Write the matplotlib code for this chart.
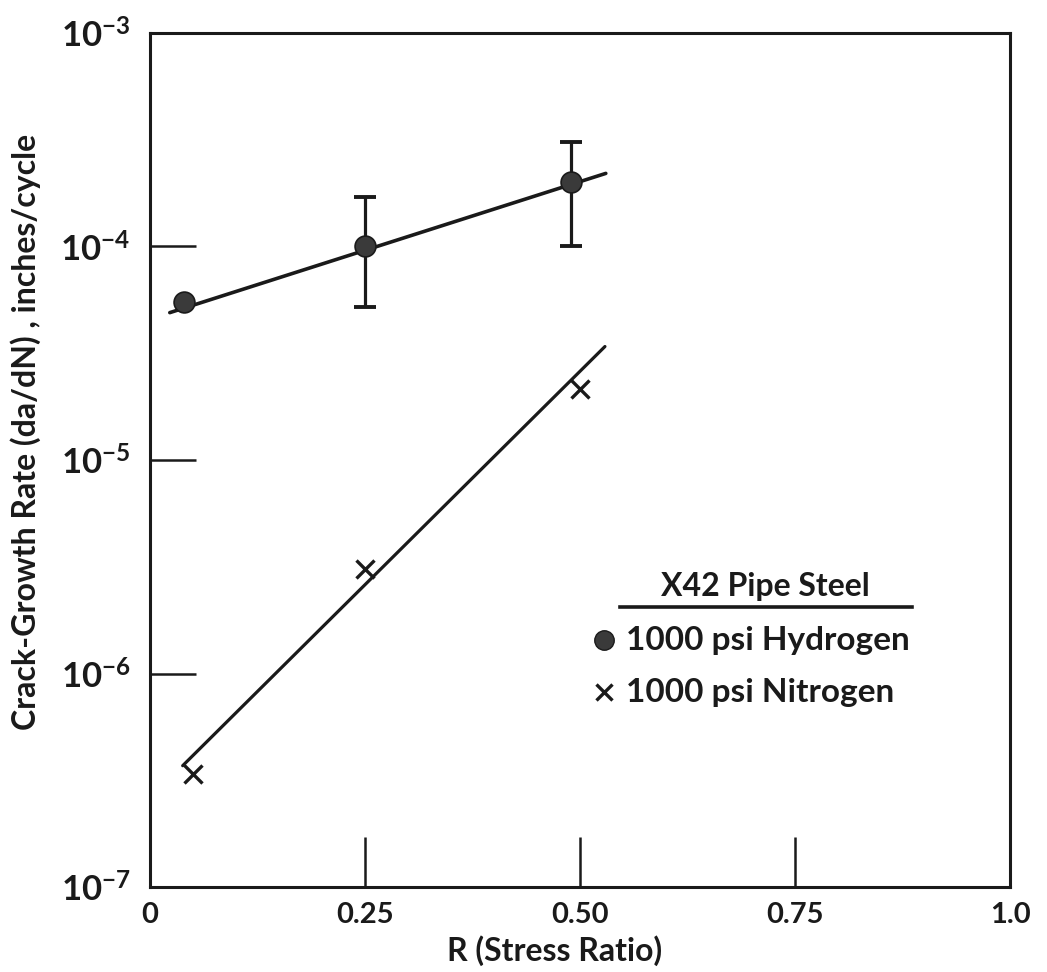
import matplotlib
matplotlib.use("Agg")
import matplotlib.pyplot as plt
from matplotlib.lines import Line2D

# ---- data ----
h2_r = [0.04, 0.25, 0.49]
h2_rate = [5.5e-5, 1.0e-4, 2.0e-4]
h2_err_lo = [5.5e-5, 5.2e-5, 1.0e-4]
h2_err_hi = [5.5e-5, 1.7e-4, 3.1e-4]
h2_has_err = [False, True, True]

n2_r = [0.05, 0.25, 0.50]
n2_rate = [3.4e-7, 3.1e-6, 2.15e-5]

h2_fit_r = [0.023, 0.53]
h2_fit_rate = [4.9e-5, 2.2e-4]
n2_fit_r = [0.038, 0.529]
n2_fit_rate = [3.7e-7, 3.4e-5]

x_ticks = [0, 0.25, 0.50, 0.75, 1.0]
x_tick_labels = ["0", "0.25", "0.50", "0.75", "1.0"]
y_ticks = [1e-7, 1e-6, 1e-5, 1e-4, 1e-3]
y_tick_labels = [r"$\mathregular{10^{-7}}$", r"$\mathregular{10^{-6}}$",
                 r"$\mathregular{10^{-5}}$", r"$\mathregular{10^{-4}}$",
                 r"$\mathregular{10^{-3}}$"]

legend_title = "X42 Pipe Steel"
legend_labels = ["1000 psi Hydrogen", "1000 psi Nitrogen"]
x_label = "R (Stress Ratio)"
y_label = "Crack-Growth Rate (da/dN) , inches/cycle"

# ---- style ----
plt.rcParams['font.family'] = ['Lato', 'DejaVu Sans']
plt.rcParams['font.weight'] = 'bold'
plt.rcParams['axes.labelweight'] = 'bold'
plt.rcParams['mathtext.fontset'] = 'custom'
plt.rcParams['mathtext.rm'] = 'Lato:bold'
plt.rcParams['mathtext.bf'] = 'Lato:bold'
plt.rcParams['mathtext.default'] = 'bf'
ink = "#1a1a1a"
dot = "#3a3a3a"

fig = plt.figure(figsize=(10.47, 9.72), dpi=100)
W, H = 1047, 972
L, R, T, B = 150, 1010, 33, 887
ax = fig.add_axes([L / W, 1 - B / H, (R - L) / W, (B - T) / H])

ax.set_yscale("log")
ax.set_xlim(0, 1.0)
ax.set_ylim(1e-7, 1e-3)

# fit lines
ax.plot(h2_fit_r, h2_fit_rate, color=ink, lw=2.6, solid_capstyle="round", zorder=2)
ax.plot(n2_fit_r, n2_fit_rate, color=ink, lw=2.3, solid_capstyle="round", zorder=2)

# error bars
for r, v, lo, hi, has in zip(h2_r, h2_rate, h2_err_lo, h2_err_hi, h2_has_err):
    if has:
        ax.errorbar([r], [v], yerr=[[v - lo], [hi - v]], fmt="none",
                    ecolor=ink, elinewidth=2.3, capsize=8, capthick=2.8, zorder=3)

# data points
ax.plot(h2_r, h2_rate, linestyle="none", marker="o", markersize=15,
        markerfacecolor=dot, markeredgecolor=ink, markeredgewidth=1.2, zorder=4)
ax.plot(n2_r, n2_rate, linestyle="none", marker="x", markersize=13,
        markeredgewidth=2.4, color=ink, zorder=4)

# axes styling
for s in ax.spines.values():
    s.set_linewidth(2.2)
    s.set_color(ink)
ax.set_xticks(x_ticks)
ax.set_xticklabels(x_tick_labels)
ax.set_yticks(y_ticks)
ax.set_yticklabels(y_tick_labels)
ax.yaxis.set_minor_locator(matplotlib.ticker.NullLocator())
ax.tick_params(axis="x", direction="in", length=36, width=1.8, pad=11,
               labelsize=21, colors=ink)
ax.tick_params(axis="y", direction="in", length=33, width=1.8, pad=14,
               labelsize=25, colors=ink)
# hide ticks at the very ends (corners)
ax.xaxis.get_major_ticks()[0].tick1line.set_visible(False)
ax.xaxis.get_major_ticks()[-1].tick1line.set_visible(False)
ax.yaxis.get_major_ticks()[0].tick1line.set_visible(False)
ax.yaxis.get_major_ticks()[-1].tick1line.set_visible(False)

ax.set_xlabel(x_label, fontsize=23, color=ink, fontweight="bold")
ax.xaxis.set_label_coords(0.47, -0.057)
ax.set_ylabel(y_label, fontsize=23, color=ink, fontweight="bold")
ax.yaxis.set_label_coords(-0.127, 0.533)

# legend (drawn manually)
ax.text(0.715, 0.352, legend_title, transform=ax.transAxes, ha="center",
        va="center", fontsize=23, color=ink)
ax.add_line(Line2D([0.547, 0.886], [0.328, 0.328], transform=ax.transAxes,
                   color=ink, lw=2.6))
ax.plot([0.528], [0.289], transform=ax.transAxes, marker="o", markersize=14,
        markerfacecolor=dot, markeredgecolor=ink, markeredgewidth=1.0,
        linestyle="none", clip_on=False)
ax.text(0.553, 0.289, legend_labels[0], transform=ax.transAxes, ha="left",
        va="center", fontsize=24, color=ink)
ax.plot([0.528], [0.228], transform=ax.transAxes, marker="x", markersize=11,
        markeredgewidth=2.4, color=ink, linestyle="none", clip_on=False)
ax.text(0.553, 0.228, legend_labels[1], transform=ax.transAxes, ha="left",
        va="center", fontsize=24, color=ink)

fig.savefig("out.png", dpi=100, facecolor="white")
